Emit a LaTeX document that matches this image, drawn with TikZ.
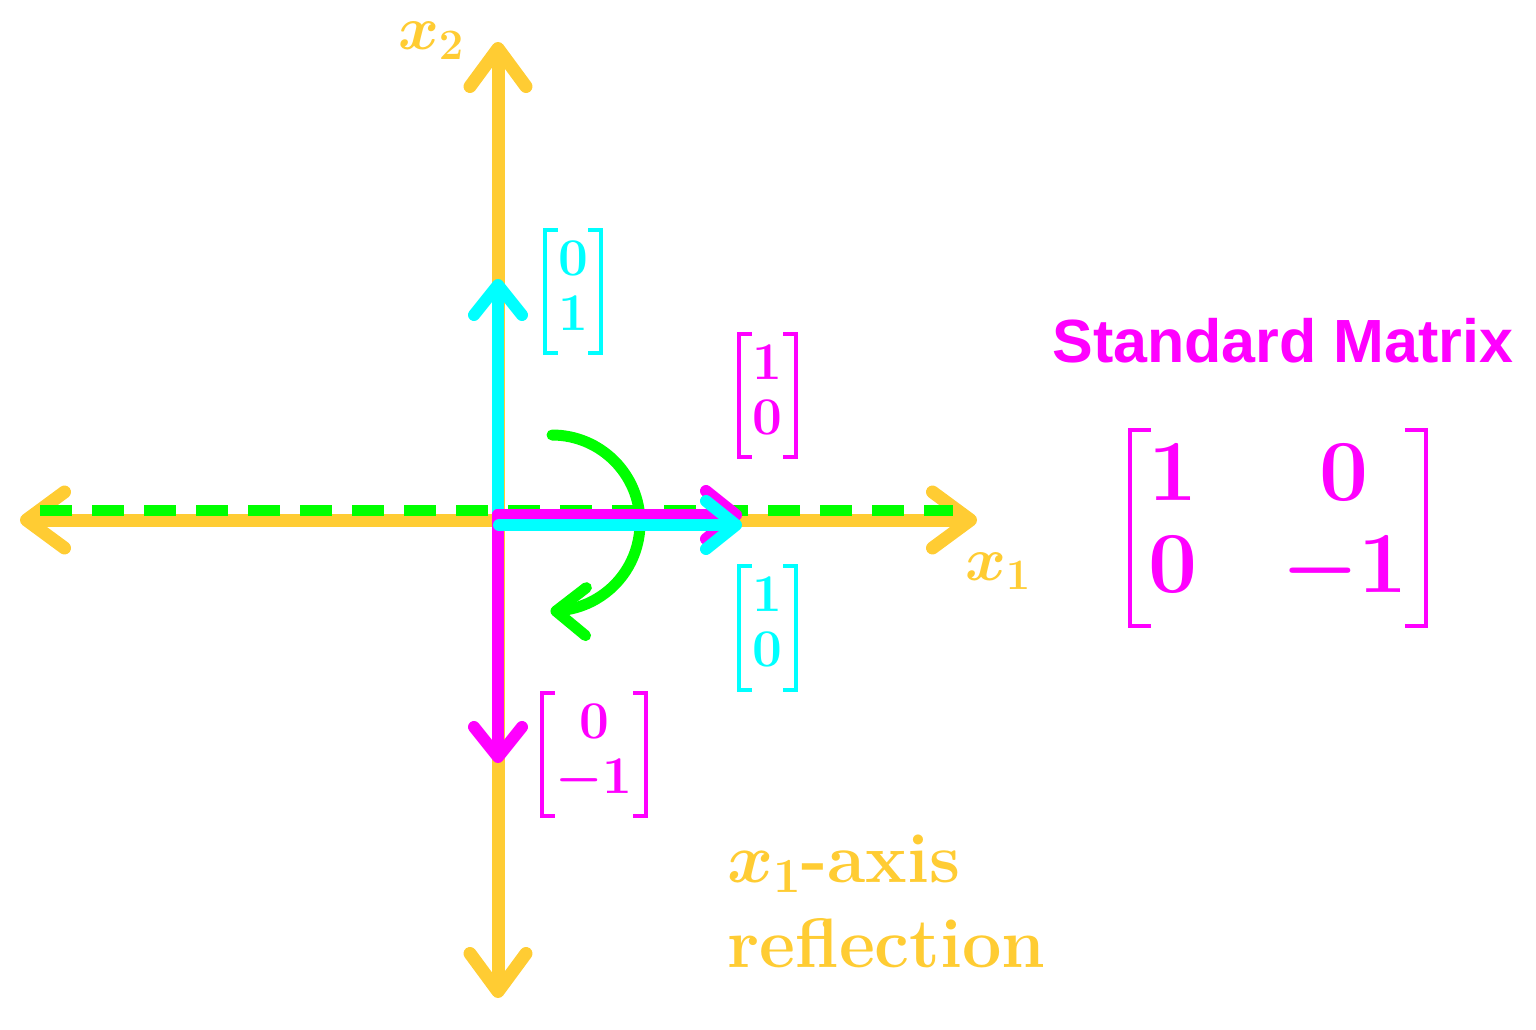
\RequirePackage{fix-cm}
\documentclass[tikz,border=0pt]{standalone}
\usepackage{amsmath}
\usepackage{fontspec}
\newfontfamily\titlefont{Liberation Sans}
\usetikzlibrary{arrows.meta,bending}
\definecolor{axisc}{RGB}{255,204,51}
\definecolor{vcyan}{RGB}{0,255,255}
\definecolor{vmag}{RGB}{255,0,255}
\definecolor{vgreen}{RGB}{0,255,0}
\tikzset{
  bigtip/.tip={Straight Barb[length=38pt,width=56pt,round]},
  smalltip/.tip={Straight Barb[length=30pt,width=48pt,round]},
  arctip/.tip={Straight Barb[length=30pt,width=48pt,round,flex]},
}
% brackets drawn round a matrix node: #1 node, #2 colour, #3 serif, #4 stroke width
\newcommand{\mbrack}[4]{%
  \draw[draw=#2,line width=#4,line cap=butt,line join=miter]
    ([xshift=#3]#1.north west) -- (#1.north west) -- (#1.south west) -- ([xshift=#3]#1.south west);
  \draw[draw=#2,line width=#4,line cap=butt,line join=miter]
    ([xshift=-#3]#1.north east) -- (#1.north east) -- (#1.south east) -- ([xshift=-#3]#1.south east);
}
\begin{document}
\begin{tikzpicture}[x=1pt,y=-1pt,
  axisline/.style={draw=axisc,line width=13pt,line cap=round,line join=round,arrows={bigtip-bigtip}},
  vecline/.style={line width=12pt,line cap=round,line join=round,arrows={-smalltip}},
  dashline/.style={draw=vgreen,line width=11pt,dash pattern=on 32pt off 20pt},
  greenarc/.style={draw=vgreen,line width=11pt,line cap=round,arrows={-arctip}},
  vlabel/.style={inner sep=0pt,minimum height=123pt,font=\fontsize{53}{55}\selectfont\boldmath},
  axlabel/.style={inner sep=0pt,text=axisc,font=\fontsize{62}{72}\selectfont\boldmath},
  notelabel/.style={inner sep=0pt,text=axisc,font=\fontsize{70}{84}\selectfont\bfseries\boldmath,anchor=base west},
]
\useasboundingbox (0,0) rectangle (1536,1030);
% coordinates
\coordinate (xl) at (20,520);
\coordinate (xr) at (977,520);
\coordinate (yt) at (498,42);
\coordinate (yb) at (498,998);
\coordinate (dl) at (40,510);
\coordinate (dr) at (953,510);
\coordinate (arcS) at (552,435);
\coordinate (ocv) at (498,520);
\coordinate (e2) at (498,279);
\coordinate (omh) at (498,515);
\coordinate (te1) at (742,515);
\coordinate (te2) at (498,763);
\coordinate (och) at (499,525);
\coordinate (e1) at (742,525);
% axes
\draw[axisline] (xl) -- (xr);
\draw[axisline] (yt) -- (yb);
% reflection line
\draw[dashline] (dl) -- (dr);
% rotation arrow
\draw[greenarc] (arcS) arc[start angle=-90,end angle=91,radius=88];
% vectors
\draw[vecline,draw=vcyan] (ocv) -- (e2);
\draw[vecline,draw=vmag] (omh) -- (te1);
\draw[vecline,draw=vmag] (omh) -- (te2);
\draw[vecline,draw=vcyan] (och) -- (e1);
% axis labels
\node[axlabel,anchor=base] (xtwo) at (431,50) {$x_2$};
\node[axlabel,anchor=base] (xone) at (998,580) {$x_1$};
% vector labels
\node[vlabel,text=vcyan,minimum width=56pt] (ve2) at (573,291.5) {$\begin{matrix}0\\1\end{matrix}$};
\node[vlabel,text=vmag,minimum width=57pt] (vte1) at (767.5,395.5) {$\begin{matrix}1\\0\end{matrix}$};
\node[vlabel,text=vcyan,minimum width=57pt] (ve1) at (767.5,628) {$\begin{matrix}1\\0\end{matrix}$};
\node[vlabel,text=vmag,minimum width=104pt] (vte2) at (594,754.5) {$\begin{matrix}0\\-1\end{matrix}$};
\mbrack{ve2}{vcyan}{13pt}{4pt}
\mbrack{vte1}{vmag}{13pt}{4pt}
\mbrack{ve1}{vcyan}{13pt}{4pt}
\mbrack{vte2}{vmag}{13pt}{4pt}
% note
\node[notelabel] (note1) at (727,882) {$x_1$-axis};
\node[notelabel] (note2) at (727,967) {reflection};
% standard matrix
\node[inner sep=0pt,text=vmag,font=\titlefont\bfseries\fontsize{61}{72}\selectfont,anchor=base] (title) at (1283,362) {Standard Matrix};
\node[inner sep=0pt,text=vmag,minimum width=296pt,minimum height=196pt,font=\fontsize{87}{92}\selectfont\boldmath] (stdm) at (1278,528) {\setlength{\arraycolsep}{42pt}$\begin{matrix}1&0\\0&-1\end{matrix}$};
\mbrack{stdm}{vmag}{21pt}{4.5pt}
\end{tikzpicture}
\end{document}
